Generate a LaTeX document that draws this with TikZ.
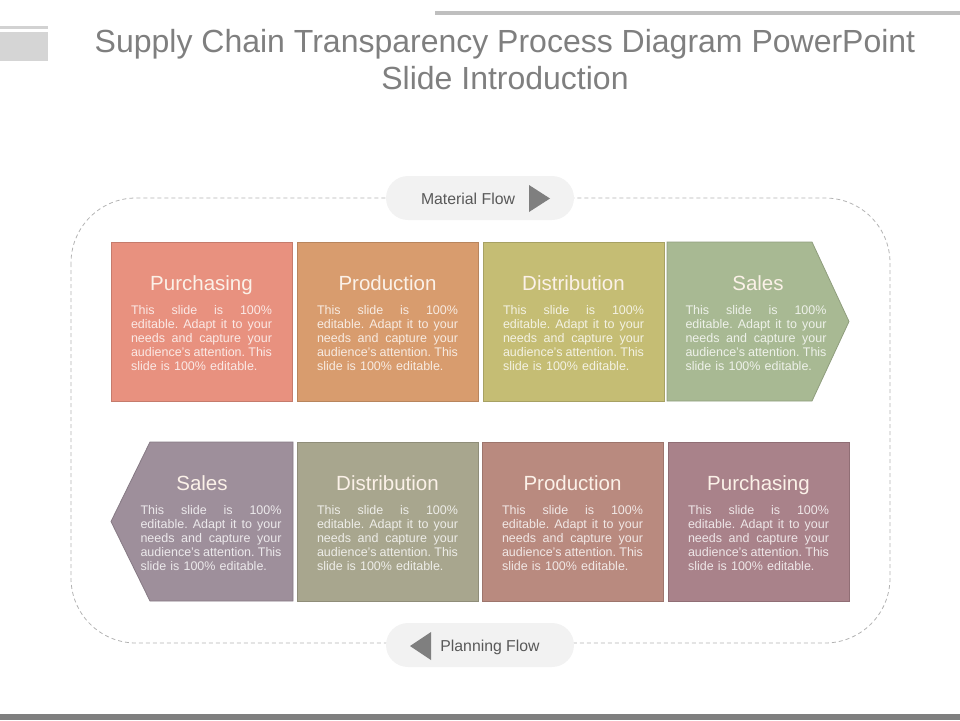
\documentclass[tikz,border=0pt]{standalone}
\usepackage{fontspec}
\setmainfont{Liberation Sans}
\definecolor{purA}{HTML}{E8917F}
\definecolor{proA}{HTML}{D89C6E}
\definecolor{disA}{HTML}{C5BD74}
\definecolor{salA}{HTML}{A8B993}
\definecolor{salB}{HTML}{9E8F9B}
\definecolor{disB}{HTML}{A8A68E}
\definecolor{proB}{HTML}{B98A7F}
\definecolor{purB}{HTML}{A9828A}
\definecolor{headtext}{HTML}{FBF1E8}
\definecolor{titlegray}{HTML}{7F7F7F}
\definecolor{pillgray}{HTML}{F2F2F2}
\definecolor{pilltext}{HTML}{595959}
\newcommand\blurbtext{%
  \makebox[141pt][s]{This\hfill slide\hfill is\hfill 100\%}\\
  \makebox[141pt][s]{editable.\hfill Adapt\hfill it\hfill to\hfill your}\\
  \makebox[141pt][s]{needs\hfill and\hfill capture\hfill your}\\
  \makebox[141pt][s]{audience's\hfill attention.\hfill This}\\
  slide is 100\% editable.}
\begin{document}
\begin{tikzpicture}[x=1pt,y=-1pt,
  card/.style={draw=#1!85!black, fill=#1, line width=0.8pt, minimum width=181pt, minimum height=159pt, inner sep=0pt, anchor=north west},
  head/.style={text=headtext, font=\fontsize{20.5}{24}\selectfont, anchor=base, inner sep=0pt},
  blurb/.style={text=white, text opacity=0.8, font=\fontsize{12.5}{14.2}\selectfont, text width=141pt, align=left, inner sep=0pt, anchor=base},
  pill/.style={fill=pillgray, rounded corners=22pt, minimum width=188pt, minimum height=44pt, inner sep=0pt},
  pilllabel/.style={text=pilltext, font=\fontsize{15.8}{19}\selectfont, anchor=base, inner sep=0pt},
  tri/.style={fill=titlegray}]
\useasboundingbox (0,0) rectangle (960,720);
% page decoration
\fill[gray!50] (435,11) rectangle (960,15);
\fill[gray!35] (0,26) rectangle (48,29);
\fill[gray!33] (0,32) rectangle (48,61);
\fill[titlegray] (0,714) rectangle (960,720);
\node[text=titlegray, font=\fontsize{32}{37}\selectfont, align=center] (heading) at (505,60) {Supply Chain Transparency Process Diagram PowerPoint\\Slide Introduction};
% dashed loop
\draw[gray!60, line width=0.8pt, dash pattern=on 4pt off 3pt, rounded corners=65pt] (71,198) rectangle (890,643);
\node[pill] (matflow) at (480,198) {};
\node[pilllabel] (matlabel) at (468,204) {Material Flow};
\fill[tri] (529,185) -- (550,198.5) -- (529,212) -- cycle;
\node[pill] (planflow) at (480,645) {};
\node[pilllabel] (planlabel) at (490,651) {Planning Flow};
\fill[tri] (431,632) -- (410,646) -- (431,660) -- cycle;
% material row
\node[card=purA] (purtop) at (111,242) {};
\node[card=proA] (protop) at (297,242) {};
\node[card=disA] (distop) at (483,242) {};
\draw[draw=salA!85!black, fill=salA, line width=0.8pt] (667,242) -- (812,242) -- (849,321.5) -- (812,401) -- (667,401) -- cycle;
\node[head] (purtophead) at (201.5,290) {Purchasing};
\node[head] (protophead) at (387.5,290) {Production};
\node[head] (distophead) at (573.5,290) {Distribution};
\node[head] (saltophead) at (758,290) {Sales};
\node[blurb] (purtopbody) at (201.5,314) {\blurbtext};
\node[blurb] (protopbody) at (387.5,314) {\blurbtext};
\node[blurb] (distopbody) at (573.5,314) {\blurbtext};
\node[blurb] (saltopbody) at (756,314) {\blurbtext};
% planning row
\draw[draw=salB!85!black, fill=salB, line width=0.8pt] (150,442) -- (293,442) -- (293,601) -- (150,601) -- (111,521.5) -- cycle;
\node[card=disB] (disbot) at (297,442) {};
\node[card=proB] (probot) at (482,442) {};
\node[card=purB] (purbot) at (668,442) {};
\node[head] (salbothead) at (202,490) {Sales};
\node[head] (disbothead) at (387.5,490) {Distribution};
\node[head] (probothead) at (572.5,490) {Production};
\node[head] (purbothead) at (758.5,490) {Purchasing};
\node[blurb] (salbotbody) at (211,514) {\blurbtext};
\node[blurb] (disbotbody) at (387.5,514) {\blurbtext};
\node[blurb] (probotbody) at (572.5,514) {\blurbtext};
\node[blurb] (purbotbody) at (758.5,514) {\blurbtext};
\end{tikzpicture}
\end{document}
